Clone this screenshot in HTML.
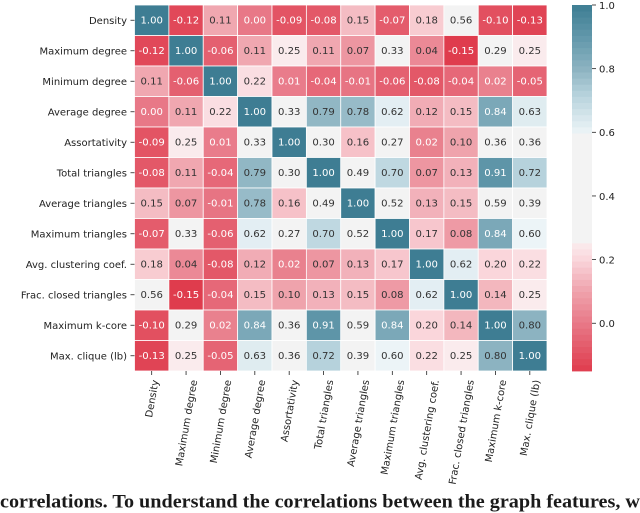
<!DOCTYPE html>
<html>
<head>
<meta charset="utf-8">
<style>
html,body{margin:0;padding:0;background:#fff;width:640px;height:513px;overflow:hidden}
svg{display:block}
text{font-family:"DejaVu Sans","Liberation Sans",sans-serif}
</style>
</head>
<body>
<svg id="chart" width="640" height="513" viewBox="0 0 640 513" xmlns="http://www.w3.org/2000/svg">
<g id="cells"></g>
<g id="ylabels"></g>
<g id="xlabels"></g>
<g id="cbar"></g>
<text x="0" y="507.5" textLength="640" lengthAdjust="spacingAndGlyphs" style="font-family:'Liberation Serif',serif;font-size:18.5px;font-weight:bold;fill:#1a1a1a">correlations. To understand the correlations between the graph features, w</text>
</svg>
<script>
const labels = ["Density","Maximum degree","Minimum degree","Average degree","Assortativity","Total triangles","Average triangles","Maximum triangles","Avg. clustering coef.","Frac. closed triangles","Maximum k-core","Max. clique (lb)"];
const row0 = [1.00,-0.12,0.11,0.00,-0.09,-0.08,0.15,-0.07,0.18,0.56,-0.10,-0.13];
const row1 = [-0.12,1.00,-0.06,0.11,0.25,0.11,0.07,0.33,0.04,-0.15,0.29,0.25];
const row2 = [0.11,-0.06,1.00,0.22,0.01,-0.04,-0.01,-0.06,-0.08,-0.04,0.02,-0.05];
const row3 = [0.00,0.11,0.22,1.00,0.33,0.79,0.78,0.62,0.12,0.15,0.84,0.63];
const row4 = [-0.09,0.25,0.01,0.33,1.00,0.30,0.16,0.27,0.02,0.10,0.36,0.36];
const row5 = [-0.08,0.11,-0.04,0.79,0.30,1.00,0.49,0.70,0.07,0.13,0.91,0.72];
const row6 = [0.15,0.07,-0.01,0.78,0.16,0.49,1.00,0.52,0.13,0.15,0.59,0.39];
const row7 = [-0.07,0.33,-0.06,0.62,0.27,0.70,0.52,1.00,0.17,0.08,0.84,0.60];
const row8 = [0.18,0.04,-0.08,0.12,0.02,0.07,0.13,0.17,1.00,0.62,0.20,0.22];
const row9 = [0.56,-0.15,-0.04,0.15,0.10,0.13,0.15,0.08,0.62,1.00,0.14,0.25];
const row10 = [-0.10,0.29,0.02,0.84,0.36,0.91,0.59,0.84,0.20,0.14,1.00,0.80];
const row11 = [-0.13,0.25,-0.05,0.63,0.36,0.72,0.39,0.60,0.22,0.25,0.80,1.00];
const matrix = [row0,row1,row2,row3,row4,row5,row6,row7,row8,row9,row10,row11];
const cbarTicks = [1.0,0.8,0.6,0.4,0.2,0.0];
const vmin = -0.15, vmax = 1.0;

const NS = "http://www.w3.org/2000/svg";
const plot = {left:134.5, right:547, top:5, bottom:371};
const bar = {left:572, right:592, top:5, bottom:371};
const cellW = (plot.right-plot.left)/labels.length;
const cellH = (plot.bottom-plot.top)/labels.length;
function xAt(i){return plot.left+i*cellW;}
function yAt(i){return plot.top+i*cellH;}
function barY(v){return bar.bottom-(v-vmin)/(vmax-vmin)*(bar.bottom-bar.top);}

function colorOf(v){
  const stops=[[-0.15,[223,60,77]],[0.0,[232,120,135]],[0.11,[240,167,176]],[0.2,[250,214,219]],[0.253,[250,236,238]],[0.256,[243,243,243]],[0.595,[243,243,243]],[0.6,[236,244,247]],[0.72,[182,210,220]],[0.8,[140,179,193]],[0.91,[94,149,168]],[1.0,[62,125,147]]];
  if(v<=stops[0][0])return stops[0][1];
  for(let i=1;i<stops.length;i++){
    if(v<=stops[i][0]){
      const a=stops[i-1],b=stops[i],t=(v-a[0])/(b[0]-a[0]);
      return a[1].map((c,k)=>Math.round(c+(b[1][k]-c)*t));
    }
  }
  return stops[stops.length-1][1];
}
function css(c){return "rgb("+c.join(",")+")";}
function mk(tag,attrs,parent,txt){
  const el=document.createElementNS(NS,tag);
  for(const k in attrs)el.setAttribute(k,attrs[k]);
  if(txt!==undefined)el.textContent=txt;
  parent.appendChild(el);
  return el;
}
const gCells=document.getElementById("cells");
matrix.forEach((row,r)=>{
  row.forEach((v,c)=>{
    const rect=mk("rect",{x:xAt(c),y:yAt(r),width:cellW,height:cellH,fill:css(colorOf(v)),stroke:"#fff","stroke-width":0.8},gCells);
    
    
    const white = v>=0.83 || v<=0.02;
    const t=mk("text",{x:xAt(c)+cellW/2,y:yAt(r)+cellH/2+3.0,"text-anchor":"middle","font-size":"10.1",fill:white?"#fff":"#333"},gCells,v.toFixed(2));
    
    
  });
});
const gY=document.getElementById("ylabels");
labels.forEach((l,i)=>{
  const y=yAt(i)+cellH/2;
  const tick=mk("line",{x1:plot.left-4,x2:plot.left,y1:y,y2:y,stroke:"#222","stroke-width":0.8},gY);
  
  
  const t=mk("text",{x:127,y:y+3.8,"text-anchor":"end","font-size":"10",fill:"#222"},gY,l);
  
  
});
const gX=document.getElementById("xlabels");
labels.forEach((l,i)=>{
  const x=xAt(i)+cellW/2;
  const tick=mk("line",{x1:x,x2:x,y1:plot.bottom,y2:plot.bottom+4,stroke:"#222","stroke-width":0.8},gX);
  
  
  const t=mk("text",{"text-anchor":"middle","font-size":"10",fill:"#222"},gX,l);
  
  
  const L=t.getComputedTextLength();
  const s=Math.sin(80*Math.PI/180);
  const cy=379.5+L*s/2+1;
  t.setAttribute("transform","translate("+(x+3.6)+","+cy+") rotate(-80)");
});
const gB=document.getElementById("cbar");
const N=60;
for(let k=0;k<N;k++){
  const v0=vmin+(vmax-vmin)*k/N, v1=vmin+(vmax-vmin)*(k+1)/N;
  const s=mk("rect",{x:bar.left,y:barY(v1),width:bar.right-bar.left,height:barY(v0)-barY(v1)+0.4,fill:css(colorOf((v0+v1)/2))},gB);
  
  
}
cbarTicks.forEach(v=>{
  const y=barY(v);
  const tick=mk("line",{x1:bar.right,x2:bar.right+4,y1:y,y2:y,stroke:"#222","stroke-width":0.8},gB);
  
  
  const t=mk("text",{x:599,y:y+3.8,"font-size":"10",fill:"#222"},gB,v.toFixed(1));
  
  
});
</script>
</body>
</html>
